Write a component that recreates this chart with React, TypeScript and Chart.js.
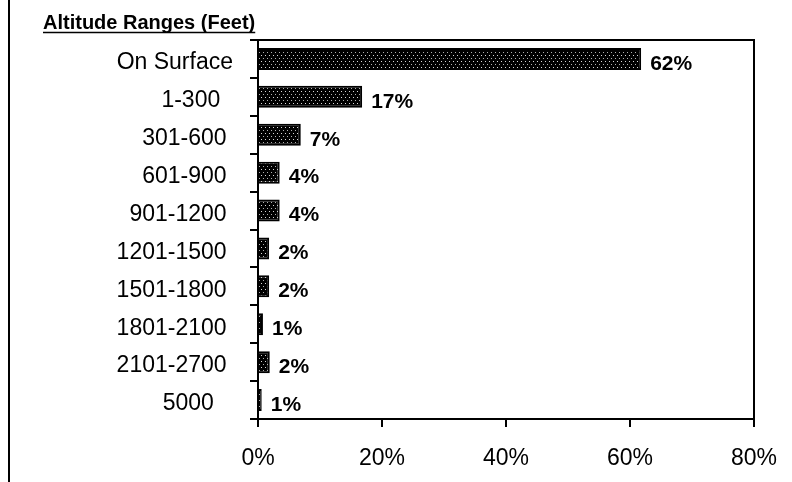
import React, { useEffect, useRef } from "react";
import { Chart, registerables } from "chart.js";

Chart.register(...registerables);

const categories = [
  "On Surface",
  "1-300  ",
  "301-600 ",
  "601-900 ",
  "901-1200 ",
  "1201-1500 ",
  "1501-1800 ",
  "1801-2100 ",
  "2101-2700 ",
  "5000   ",
];
const percentValues = [61.8, 16.8, 6.9, 3.5, 3.5, 1.8, 1.8, 0.8, 1.9, 0.6];
const xTicks = [0, 20, 40, 60, 80];
const titleText = "Altitude Ranges (Feet)";

const FONT = '"Liberation Sans", Arial, sans-serif';

function makePattern(): CanvasPattern | string {
  const c = document.createElement("canvas");
  c.width = 8;
  c.height = 6;
  const g = c.getContext("2d");
  if (!g) return "#000";
  g.fillStyle = "#000";
  g.fillRect(0, 0, 8, 6);
  g.fillStyle = "#d8d8d8";
  g.fillRect(1, 1, 1, 1);
  g.fillRect(5, 1, 1, 1);
  g.fillStyle = "#b0b0b0";
  g.fillRect(3, 4, 1, 1);
  g.fillRect(7, 4, 1, 1);
  const p = g.createPattern(c, "repeat");
  return p || "#000";
}

const decorPlugin = {
  id: "decor",
  afterDraw(chart: any) {
    const { ctx, chartArea } = chart;
    ctx.save();
    ctx.strokeStyle = "#000";
    ctx.lineWidth = 2;
    ctx.beginPath();
    ctx.moveTo(chartArea.left, chartArea.top);
    ctx.lineTo(chartArea.right, chartArea.top);
    ctx.lineTo(chartArea.right, chartArea.bottom);
    ctx.stroke();
    ctx.beginPath();
    ctx.moveTo(9, 0);
    ctx.lineTo(9, chart.height);
    ctx.stroke();
    ctx.fillStyle = "#000";
    ctx.font = `bold 20px ${FONT}`;
    ctx.textAlign = "left";
    ctx.textBaseline = "alphabetic";
    ctx.fillText(titleText, 43, 29);
    const w = ctx.measureText(titleText).width;
    ctx.lineWidth = 1.5;
    ctx.beginPath();
    ctx.moveTo(43, 32.5);
    ctx.lineTo(43 + w, 32.5);
    ctx.stroke();
    ctx.restore();
  },
  afterDatasetsDraw(chart: any) {
    const { ctx } = chart;
    const meta = chart.getDatasetMeta(0);
    ctx.save();
    ctx.fillStyle = "#000";
    ctx.font = `bold 21px ${FONT}`;
    ctx.textAlign = "left";
    ctx.textBaseline = "middle";
    meta.data.forEach((el: any, i: number) => {
      const v = percentValues[i];
      ctx.fillText(Math.round(v) + "%", el.x + 9, el.y + 5);
    });
    ctx.restore();
  },
};

export default function App() {
  const ref = useRef<HTMLCanvasElement | null>(null);
  useEffect(() => {
    if (!ref.current) return;
    const pattern = makePattern();
    const chart = new Chart(ref.current, {
      type: "bar",
      data: {
        labels: categories,
        datasets: [
          {
            data: percentValues,
            backgroundColor: pattern as any,
            borderColor: "#000",
            borderWidth: 2,
            barPercentage: 0.58,
            categoryPercentage: 1,
          },
        ],
      },
      options: {
        indexAxis: "y",
        responsive: false,
        animation: false,
        layout: { padding: { left: 0, right: 38, top: 40, bottom: 0 } },
        plugins: {
          legend: { display: false },
          tooltip: { enabled: false },
          title: { display: false },
        },
        scales: {
          x: {
            min: 0,
            max: 80,
            afterBuildTicks: (scale: any) => {
              scale.ticks = xTicks.map((v) => ({ value: v }));
            },
            afterFit: (scale: any) => {
              scale.height = 63;
              scale.paddingLeft = 0;
              scale.paddingRight = 0;
            },
            grid: {
              drawOnChartArea: false,
              drawTicks: true,
              tickLength: 8,
              color: "#000",
              lineWidth: 2,
            },
            border: { display: true, color: "#000", width: 2 },
            ticks: {
              color: "#000",
              font: { family: FONT, size: 23 },
              padding: 18,
              maxRotation: 0,
              callback: (v: any) => v + "%",
            },
          },
          y: {
            afterFit: (scale: any) => {
              scale.width = 258;
              scale.paddingTop = 0;
              scale.paddingBottom = 0;
            },
            grid: {
              offset: true,
              drawOnChartArea: false,
              drawTicks: true,
              tickLength: 8,
              color: "#000",
              lineWidth: 2,
            },
            border: { display: true, color: "#000", width: 2 },
            ticks: {
              color: "#000",
              font: { family: FONT, size: 23 },
              padding: 17,
              labelOffset: 4,
              autoSkip: false,
            },
          },
        },
      },
      plugins: [decorPlugin],
    });
    return () => chart.destroy();
  }, []);
  return (
    <div style={{ position: "fixed", left: 0, top: 0, width: 792, height: 482, background: "#fff" }}>
      <canvas ref={ref} width={792} height={482} style={{ width: 792, height: 482, display: "block" }} />
    </div>
  );
}
